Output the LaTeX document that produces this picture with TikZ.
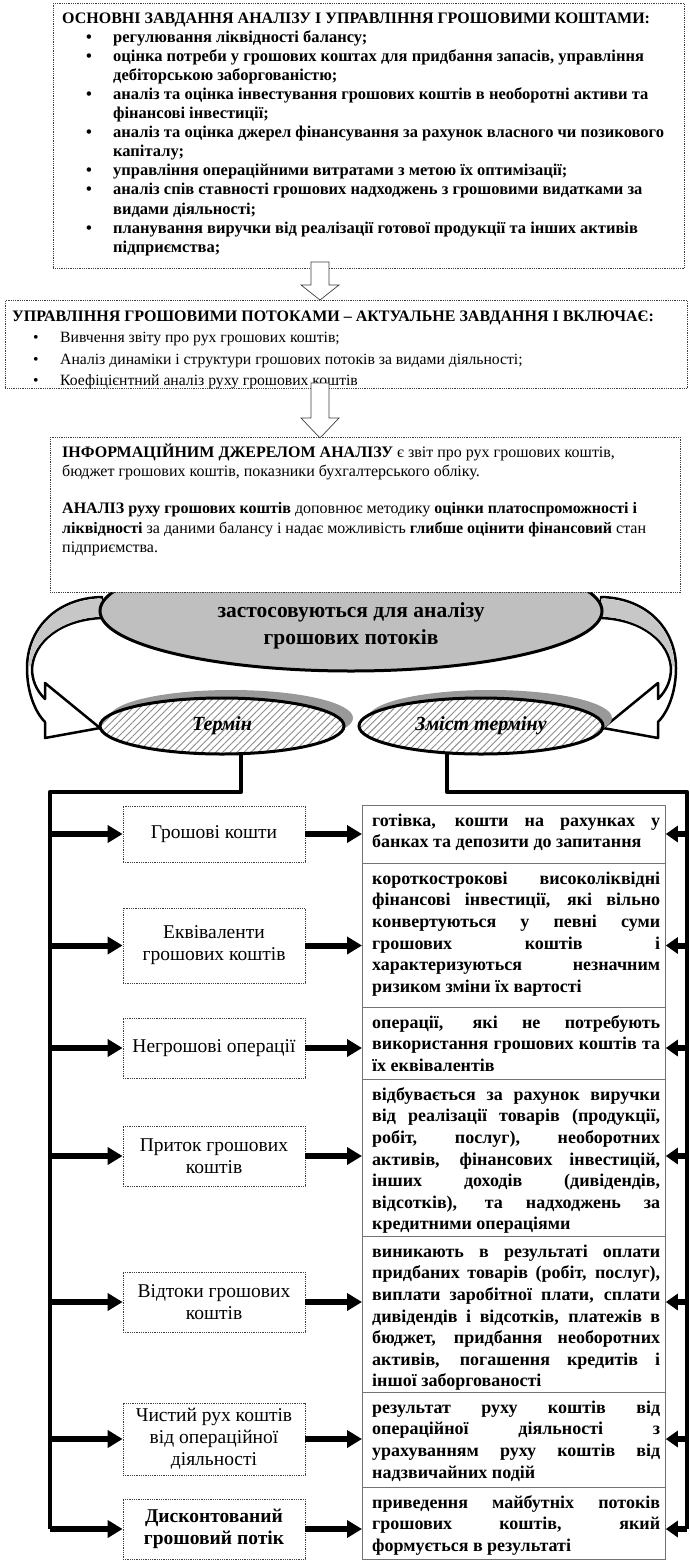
\documentclass[tikz,border=0pt]{standalone}
\usepackage{fontspec}
\setmainfont{Liberation Serif}
\usetikzlibrary{arrows.meta,patterns.meta,shapes.geometric}
\newcommand{\itmA}{\hspace*{24pt}\makebox[27pt][l]{\textbullet}}
\newcommand{\cntA}{\hspace*{51pt}}
\newcommand{\itmB}{\hspace*{21pt}\makebox[27pt][l]{\textbullet}}
\newcommand{\jl}[1]{\makebox[288pt][s]{#1}}
\newcommand{\fst}[1]{\rule{0pt}{#1pt}}
\begin{document}
\begin{tikzpicture}[x=1pt,y=-1pt,
  dbox/.style={draw=black!75, densely dotted, line width=0.8pt, fill=white, inner sep=0pt},
  txt/.style={anchor=north west, inner sep=0pt, align=left},
  lbox/.style={dbox, minimum width=182pt, align=center, font=\fontsize{19.5}{22}\selectfont},
  cell/.style={draw=black!55, line width=0.8pt, fill=white, minimum width=303pt, inner sep=0pt, anchor=north west},
  celltxt/.style={txt, font=\fontsize{18}{21.6}\selectfont\bfseries},
  conn/.style={line width=4.5pt, line join=round},
  harr/.style={line width=6pt, -{Triangle[length=15pt,width=17pt]}},
  rarr/.style={line width=6pt, -{Triangle[length=12pt,width=16pt]}},
  blockarr/.style={draw=black!75, line width=0.7pt, fill=white},
  ribbon/.style={draw=black, line width=2.5pt, fill=white, line join=round},
  termell/.style={ellipse, draw=black, line width=3pt, minimum width=244pt, minimum height=56pt, inner sep=0pt,
    preaction={fill=white}, pattern={Lines[angle=45,distance=5pt,line width=0.9pt]}, pattern color=black!45,
    font=\fontsize{20}{24}\selectfont\bfseries\itshape},
  shadowell/.style={fill=black!40}
]
\useasboundingbox (0,0) rectangle (690,1562);
\fill[white] (0,0) rectangle (690,1562);

% ---- top box
\node[dbox, anchor=north west, minimum width=631pt, minimum height=265pt] (box1) at (53,3) {};
\node[txt, font=\fontsize{16.5}{19.08}\selectfont\bfseries] (t1) at (62,8) {\fst{15}{\fontsize{16}{19.08}\selectfont ОСНОВНІ ЗАВДАННЯ АНАЛІЗУ І УПРАВЛІННЯ ГРОШОВИМИ КОШТАМИ:}\\
\itmA регулювання ліквідності балансу;\\
\itmA оцінка потреби у грошових  коштах для придбання запасів, управління\\
\cntA дебіторською заборгованістю;\\
\itmA аналіз та оцінка  інвестування грошових  коштів   в необоротні активи та\\
\cntA фінансові інвестиції;\\
\itmA аналіз та оцінка  джерел фінансування за рахунок  власного чи позикового\\
\cntA капіталу;\\
\itmA управління операційними  витратами з метою їх оптимізації;\\
\itmA аналіз спів ставності грошових  надходжень з грошовими  видатками за\\
\cntA видами діяльності;\\
\itmA планування виручки від реалізації готової продукції та інших  активів\\
\cntA підприємства;};

% ---- second box
\node[dbox, anchor=north west, minimum width=682pt, minimum height=88pt] (box2) at (5,300) {};
\node[txt, font=\fontsize{15.7}{21.5}\selectfont] (t2) at (12,306) {\fst{15}{\fontsize{16}{21.5}\selectfont\bfseries УПРАВЛІННЯ ГРОШОВИМИ ПОТОКАМИ – АКТУАЛЬНЕ ЗАВДАННЯ  І ВКЛЮЧАЄ:}\\
\itmB Вивчення  звіту про рух грошових коштів;\\
\itmB Аналіз  динаміки і структури грошових потоків  за видами діяльності;\\
\itmB Коефіцієнтний  аналіз   руху грошових коштів};

\draw[blockarr] (311,262) -- (329,262) -- (329,285) -- (339,285) -- (320,300) -- (301,285) -- (311,285) -- cycle;

% ---- curved ribbons
\draw[ribbon] (102,597) .. controls (55,598) and (27,630) .. (27,668) .. controls (27,692) and (35,712) .. (45,722)
  -- (45,738) -- (100,728) -- (45,683) -- (45,699) .. controls (36,690) and (32,680) .. (32,668)
  .. controls (34,642) and (60,620) .. (101,618) -- cycle;
\fill[black!22] (102,598.5) .. controls (56,600) and (29,630) .. (29,666) -- (31,666) .. controls (33,642) and (60,619) .. (101,616.5) -- cycle;
\draw[ribbon] (601,597) .. controls (648,598) and (676,630) .. (676,668) .. controls (676,692) and (668,712) .. (658,722)
  -- (658,738) -- (603,728) -- (658,683) -- (658,699) .. controls (667,690) and (671,680) .. (671,668)
  .. controls (669,642) and (643,620) .. (602,618) -- cycle;
\fill[black!22] (601,598.5) .. controls (647,600) and (674,630) .. (674,666) -- (672,666) .. controls (670,642) and (643,619) .. (602,616.5) -- cycle;

% ---- big ellipse
\node[ellipse, draw=black, line width=3pt, fill=black!25, minimum width=502pt, minimum height=120pt, inner sep=0pt] (big) at (351,611) {};
\node[font=\fontsize{21.5}{27}\selectfont\bfseries, align=center, inner sep=0pt] (bigtxt) at (351,626) {застосовуються  для аналізу\\грошових  потоків};

% ---- third box
\node[dbox, anchor=north west, minimum width=630pt, minimum height=155pt] (box3) at (50,437) {};
\node[txt, font=\fontsize{16}{19.3}\selectfont] (t3) at (62,442) {\fst{15}\textbf{ІНФОРМАЦІЙНИМ ДЖЕРЕЛОМ АНАЛІЗУ} є звіт про рух грошових коштів,\\
бюджет грошових коштів,   показники бухгалтерського  обліку.\\[18pt]
\textbf{АНАЛІЗ руху грошових  коштів} доповнює методику  \textbf{оцінки платоспроможності і}\\
\textbf{ліквідності}  за даними балансу і надає можливість \textbf{глибше  оцінити фінансовий} стан\\
підприємства.};

\draw[blockarr] (311,383) -- (329,383) -- (329,418) -- (339,418) -- (320,438) -- (301,418) -- (311,418) -- cycle;

% ---- term ellipses
\fill[shadowell] (231,718) ellipse [x radius=122pt, y radius=28pt];
\fill[shadowell] (490,718) ellipse [x radius=122pt, y radius=28pt];
\node[termell] (term) at (222,726) {Термін};
\node[termell] (zmist) at (481,726) {Зміст терміну};

% ---- left boxes
\node[lbox, minimum height=56pt] (b1) at (214,834) {Грошові кошти};
\node[lbox, minimum height=75pt] (b2) at (214,945.5) {Еквіваленти\\грошових коштів};
\node[lbox, minimum height=60pt] (b3) at (214,1048) {Негрошові операції};
\node[lbox, minimum height=60pt] (b4) at (214,1156) {Приток грошових\\коштів};
\node[lbox, minimum height=60pt] (b5) at (214,1302) {Відтоки грошових\\коштів};
\node[lbox, minimum height=72pt] (b6) at (214,1439) {Чистий рух коштів\\від операційної\\діяльності};
\node[lbox, minimum height=60pt, font=\fontsize{19.5}{22}\selectfont\bfseries] (b7) at (214,1529) {Дисконтований\\грошовий потік};

% ---- right cells
\node[cell, minimum height=58pt] (c1) at (362,805) {};
\node[cell, minimum height=144pt] (c2) at (362,863) {};
\node[cell, minimum height=72pt] (c3) at (362,1007) {};
\node[cell, minimum height=157pt] (c4) at (362,1079) {};
\node[cell, minimum height=156pt] (c5) at (362,1236) {};
\node[cell, minimum height=95pt] (c6) at (362,1392) {};
\node[cell, minimum height=72pt] (c7) at (362,1487) {};

\node[celltxt] (ct1) at (372,809) {\fst{17}\jl{готівка, кошти на рахунках у}\\банках та депозити до запитання};
\node[celltxt] (ct2) at (372,867) {\fst{17}\jl{короткострокові високоліквідні}\\\jl{фінансові інвестиції, які вільно}\\\jl{конвертуються у певні суми}\\\jl{грошових коштів і}\\\jl{характеризуються незначним}\\ризиком зміни їх вартості};
\node[celltxt] (ct3) at (372,1011) {\fst{17}\jl{операції, які не потребують}\\\jl{використання грошових коштів та}\\їх еквівалентів};
\node[celltxt] (ct4) at (372,1083) {\fst{17}\jl{відбувається за рахунок виручки}\\\jl{від реалізації товарів (продукції,}\\\jl{робіт, послуг), необоротних}\\\jl{активів, фінансових інвестицій,}\\\jl{інших доходів (дивідендів,}\\\jl{відсотків), та надходжень за}\\кредитними операціями};
\node[celltxt] (ct5) at (372,1240) {\fst{17}\jl{виникають в результаті оплати}\\\jl{придбаних товарів (робіт, послуг),}\\\jl{виплати заробітної плати, сплати}\\\jl{дивідендів і відсотків, платежів в}\\\jl{бюджет, придбання необоротних}\\\jl{активів, погашення кредитів і}\\іншої заборгованості};
\node[celltxt] (ct6) at (372,1396) {\fst{17}\jl{результат руху коштів від}\\\jl{операційної діяльності з}\\\jl{урахуванням руху коштів від}\\надзвичайних подій};
\node[celltxt] (ct7) at (372,1491) {\fst{17}\jl{приведення майбутніх потоків}\\\jl{грошових коштів, який}\\формується в результаті};

% ---- connectors
\coordinate (lt) at (50,792);
\coordinate (rt) at (687,792);
\draw[conn] (term.-56) |- (lt) -- (lt |- b7.west);
\draw[conn] (zmist.-140) |- (rt) -- (rt |- b7.east);
\foreach \i in {1,...,7} {
  \draw[harr] (lt |- b\i.west) -- (b\i.west);
  \draw[harr] (b\i.east) -- (b\i.east -| c1.west);
  \draw[rarr] (rt |- b\i.east) -- (b\i.east -| c1.east);
}
\end{tikzpicture}
\end{document}
